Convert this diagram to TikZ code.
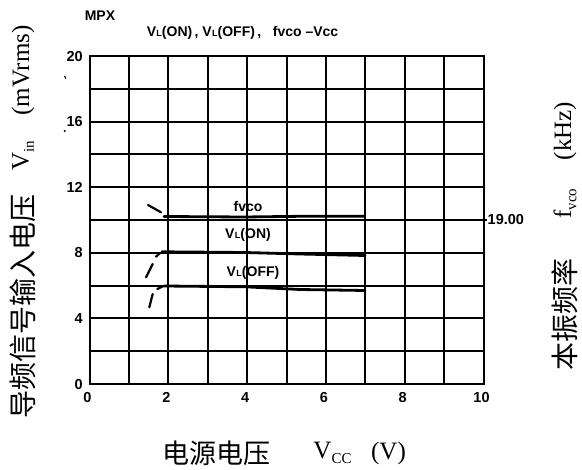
\documentclass[tikz,border=0pt]{standalone}
\usepackage{fontspec}
\setmainfont{Liberation Serif}
\setsansfont{Liberation Sans}
\newfontfamily\cjk{Noto Sans CJK SC}
\newcommand\lowsub[1]{\raisebox{-0.45ex}{\fontsize{15}{15}\selectfont #1}}
\newcommand\vlsub{V\kern0.4pt{\fontsize{9}{9}\selectfont L}}
\begin{document}
\begin{tikzpicture}[x=1pt,y=-1pt,
  gridline/.style={line width=2pt, line cap=rect},
  curve/.style={line width=2.8pt, line cap=round},
  dashpart/.style={line width=2.2pt, line cap=round},
  ticklabel/.style={font=\sffamily\bfseries\fontsize{14.5}{14.5}\selectfont, inner sep=0pt},
  titlelabel/.style={font=\sffamily\bfseries\fontsize{14}{14}\selectfont, inner sep=0pt},
  curvelabel/.style={font=\sffamily\bfseries\fontsize{14}{14}\selectfont, inner sep=0pt},
  cjklabel/.style={font=\cjk\fontsize{28}{28}\selectfont, inner sep=0pt},
  seriflabel/.style={font=\rmfamily\fontsize{25}{25}\selectfont, inner sep=0pt}]
\useasboundingbox (0,0) rectangle (582,470);
\fill[white] (0,0) rectangle (582,470);
% grid
\foreach \i in {0,...,10} \draw[gridline] ({89.5+39.4*\i},56) -- ({89.5+39.4*\i},384);
\foreach \j in {0,...,10} \draw[gridline] (89.5,{56+32.8*\j}) -- (483.5,{56+32.8*\j});
\draw[gridline] (483.5,220) -- (486,220);
% tick labels
\foreach \v in {0,4,...,20} \node[ticklabel, anchor=base east] at (83,{384-16.4*\v+5.2}) {\v};
\foreach \v in {0,2,...,10} \node[ticklabel, anchor=base] at ({87.5+39.4*\v},403) {\v};
\node[ticklabel, anchor=base west] (r19) at (487.5,225) {19.00};
% stray marks
\draw[line width=1.1pt] (64.5,76) -- (65.8,78.5);
\fill (64.8,131) circle (1.1pt);
% titles
\node[titlelabel] (mpx) at (100,16) {MPX};
\node[titlelabel] (title) at (242.5,33) {\vlsub(ON)\,, \vlsub(OFF)\,,\ \ \ fvco --Vcc};
% curves
\draw[dashpart] (148,205) -- (161,212.3);
\draw[curve] (164,216.5) -- (245,217) -- (300,216.3) -- (364,216.3);
\draw[dashpart] (146,277.3) -- (152.7,264);
\draw[dashpart] (156,256.7) -- (160,253);
\draw[curve] (162,251.8) -- (245,252.5) -- (300,254) -- (365,255.5);
\draw[dashpart] (149.3,307.3) -- (152.7,294);
\draw[dashpart] (157.3,289) -- (163,286.3);
\draw[curve] (164,286) -- (245,286.8) -- (300,289.5) -- (365,290.5);
% curve labels
\node[curvelabel] (lf) at (248,206.5) {fvco};
\node[curvelabel] (lon) at (248,235) {\vlsub(ON)};
\node[curvelabel] (loff) at (253,273) {\vlsub(OFF)};
% axis titles
\node[cjklabel, rotate=90] (yl1) at (23,307) {导频信号输入电压};
\node[seriflabel, rotate=90] (yl2) at (23,156) {V\lowsub{in}};
\node[seriflabel, rotate=90] (yl3) at (23,70.5) {(mVrms)};
\node[cjklabel, rotate=90] (rl1) at (565,315) {本振频率};
\node[seriflabel, rotate=90] (rl2) at (565,203.5) {f\lowsub{vco}};
\node[seriflabel, rotate=90] (rl3) at (565,131) {(kHz)};
\node[cjklabel, font=\cjk\fontsize{27}{27}\selectfont] (xl1) at (216,453) {电源电压};
\node[seriflabel] (xl2) at (332.5,453) {V\lowsub{CC}};
\node[seriflabel] (xl3) at (388.5,453) {(V)};
\end{tikzpicture}
\end{document}
